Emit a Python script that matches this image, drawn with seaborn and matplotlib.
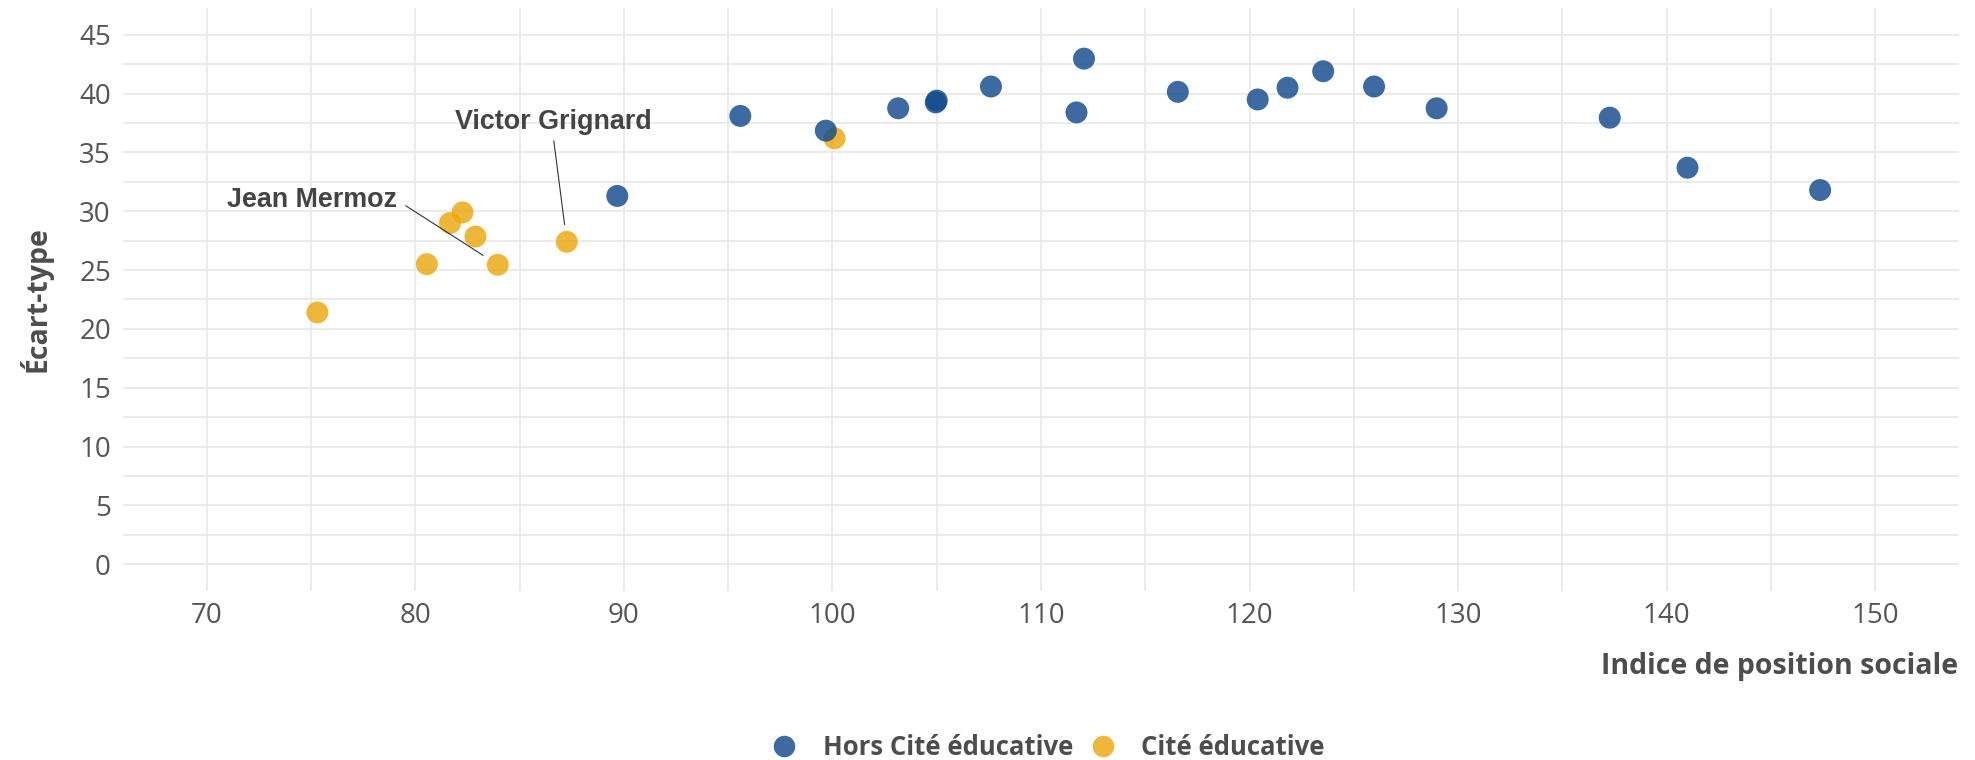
import matplotlib
matplotlib.use("Agg")
import matplotlib.pyplot as plt
from matplotlib.lines import Line2D
from matplotlib.ticker import MultipleLocator
import seaborn as sns
import pandas as pd

# ---- data ----
groups = ["Hors Cité éducative", "Cité éducative"]
colors = ["#124b8c", "#eca80f"]

cite_ips = [75.3, 80.55, 81.66, 82.26, 82.88, 83.95, 87.26, 100.1]
cite_sd = [21.4, 25.5, 29.0, 29.9, 27.85, 25.45, 27.4, 36.2]
cite_names = ["", "", "", "", "", "Jean Mermoz", "Victor Grignard", ""]

hors_ips = [89.68, 95.58, 99.68, 103.15, 104.95, 105.0, 107.6, 111.7, 112.06,
            116.56, 120.39, 121.82, 123.53, 125.97, 128.97, 137.27, 141.0, 147.36]
hors_sd = [31.3, 38.1, 36.85, 38.75, 39.25, 39.4, 40.6, 38.4, 42.97,
           40.15, 39.5, 40.5, 41.9, 40.6, 38.75, 37.95, 33.7, 31.8]

x_ticks = [70, 80, 90, 100, 110, 120, 130, 140, 150]
y_ticks = [0, 5, 10, 15, 20, 25, 30, 35, 40, 45]

df = pd.DataFrame({
    "ips": cite_ips + hors_ips,
    "sd": cite_sd + hors_sd,
    "groupe": [groups[1]] * len(cite_ips) + [groups[0]] * len(hors_ips),
    "nom": cite_names + [""] * len(hors_ips),
})

# ---- style ----
sns.set_theme(style="white")
plt.rcParams["font.family"] = ["Open Sans", "DejaVu Sans"]

fig = plt.figure(figsize=(19.75, 7.6), dpi=100)
ax = fig.add_axes([0.0625, 0.2228, 0.9292, 0.7663])

sns.scatterplot(data=df, x="ips", y="sd", hue="groupe", hue_order=groups,
                palette=dict(zip(groups, colors)), s=250, linewidth=0,
                alpha=0.82, legend=False, ax=ax, zorder=3)

grid_c = "#ebebeb"
ax.set_xlim(66, 154)
ax.set_ylim(-2.25, 47.25)
ax.set_xticks(x_ticks)
ax.set_yticks(y_ticks)
ax.xaxis.set_minor_locator(MultipleLocator(5))
ax.yaxis.set_minor_locator(MultipleLocator(2.5))
ax.grid(True, which="major", color=grid_c, lw=1.4)
ax.grid(True, which="minor", color=grid_c, lw=1.4)
ax.set_axisbelow(True)
for sp in ax.spines.values():
    sp.set_visible(False)
ax.tick_params(axis="both", which="both", length=0, labelsize=20,
               labelcolor="#555555")
ax.tick_params(axis="x", pad=8)
ax.tick_params(axis="y", pad=9)

ax.set_xlabel("Indice de position sociale", fontsize=20.5, fontweight="bold",
              color="#4d4d4d", ha="right", va="center")
ax.xaxis.set_label_coords(1.0, -0.131)
ax.set_ylabel("Écart-type", fontsize=20.5, fontweight="bold",
              color="#4d4d4d", va="center")
ax.yaxis.set_label_coords(-0.0477, 0.5)

# ---- labels (repel-style) ----
label_pos = {"Jean Mermoz": (75.03, 30.96), "Victor Grignard": (86.6, 37.6)}
label_rel = {"Jean Mermoz": ((1.0, 0.5), 5), "Victor Grignard": ((0.5, 0.0), 2)}
for _, r in df[df["nom"] != ""].iterrows():
    rel, shA = label_rel[r["nom"]]
    ax.annotate(r["nom"], xy=(r["ips"], r["sd"]), xytext=label_pos[r["nom"]],
                ha="center", va="center", fontsize=19.4, fontweight="bold",
                family=["Liberation Sans", "DejaVu Sans"], color="#444444",
                arrowprops=dict(arrowstyle="-", color="#333333", lw=0.8,
                                relpos=rel, shrinkA=shA, shrinkB=12.5),
                zorder=4)

# ---- legend ----
handles = [Line2D([], [], ls="", marker="o", markersize=15.5, color=c,
                  alpha=0.82, markeredgewidth=0) for c in colors]
leg = ax.legend(handles, groups, loc="center", bbox_to_anchor=(0.5306, 0.017),
                bbox_transform=fig.transFigure, ncol=2, frameon=False,
                fontsize=18.5, handlelength=1.0, handletextpad=0.98,
                columnspacing=0.66, borderpad=0, borderaxespad=0)
for t in leg.get_texts():
    t.set_fontweight("bold")
    t.set_color("#4d4d4d")

fig.savefig("out.png", dpi=100, facecolor="white")
